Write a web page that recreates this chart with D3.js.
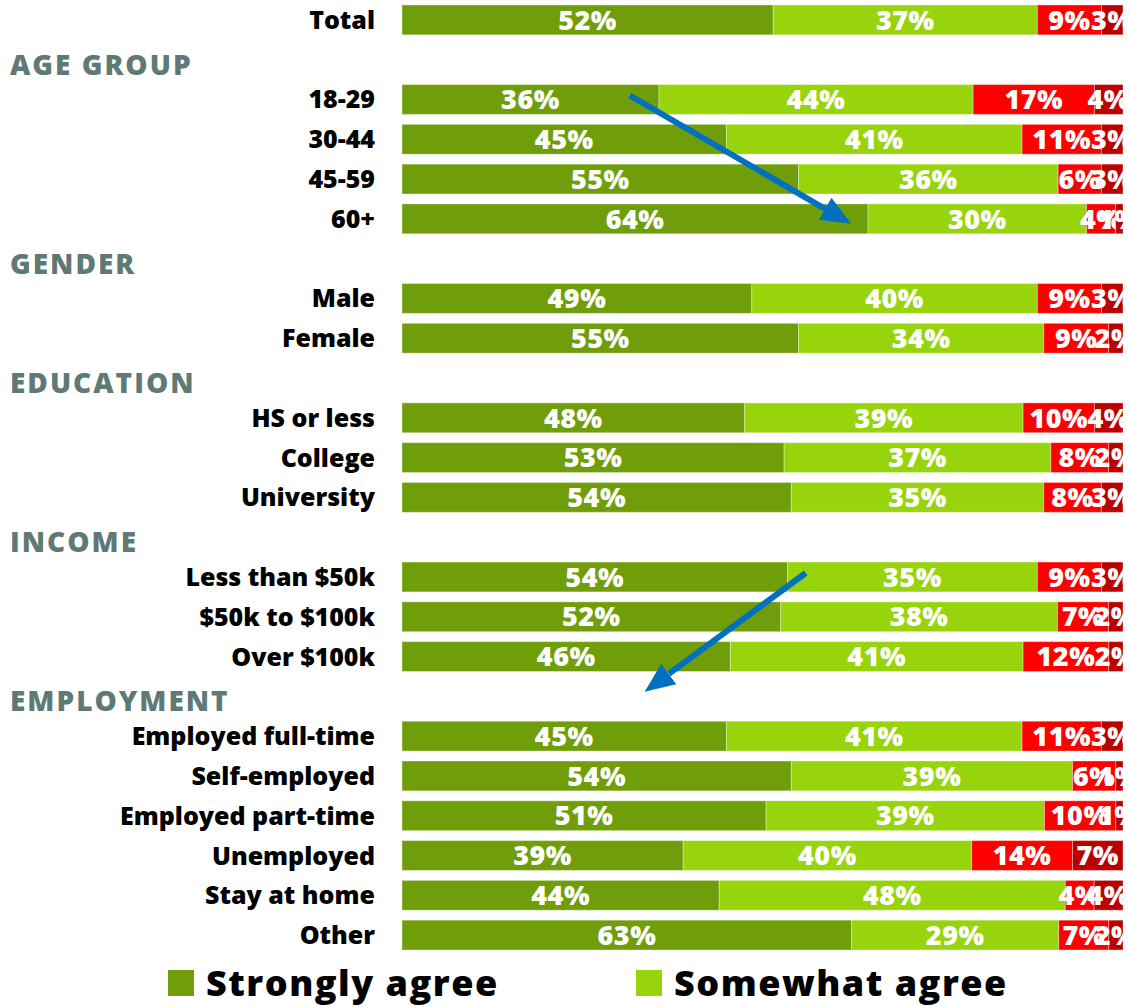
<!DOCTYPE html>
<html>
<head>
<meta charset="utf-8">
<script src="https://cdn.jsdelivr.net/npm/d3@7"></script>
<style>
  body { margin: 0; background: #fff; }
  svg { display: block; font-family: 'Open Sans', sans-serif; }
</style>
</head>
<body>
<div id="chart"></div>
<script>
//Datos del gráfico
const seriesNames = ['Strongly agree', 'Somewhat agree', 'Somewhat disagree', 'Strongly disagree'];
const categories = ['Total', '18-29', '30-44', '45-59', '60+', 'Male', 'Female',
    'HS or less', 'College', 'University', 'Less than $50k', '$50k to $100k', 'Over $100k',
    'Employed full-time', 'Self-employed', 'Employed part-time', 'Unemployed', 'Stay at home', 'Other'];
const headers = ['AGE GROUP', 'GENDER', 'EDUCATION', 'INCOME', 'EMPLOYMENT'];
const headerBefore = ['18-29', 'Male', 'HS or less', 'Less than $50k', 'Employed full-time'];

const stronglyAgree    = [52, 36, 45, 55, 64, 49, 55, 48, 53, 54, 54, 52, 46, 45, 54, 51, 39, 44, 63];
const somewhatAgree    = [37, 44, 41, 36, 30, 40, 34, 39, 37, 35, 35, 38, 41, 41, 39, 39, 40, 48, 29];
const somewhatDisagree = [ 9, 17, 11,  6,  4,  9,  9, 10,  8,  8,  9,  7, 12, 11,  6, 10, 14,  4,  7];
const stronglyDisagree = [ 3,  4,  3,  3,  1,  3,  2,  4,  2,  3,  3,  2,  2,  3,  1,  1,  7,  4,  2];

//Flechas de anotación: [categoría, porcentaje]
const arrowFrom = [['18-29', 31.6], ['Less than $50k', 56.0]];
const arrowTo   = [['60+', 61.8], ['EMPLOYMENT', 34.1]];

//Colores fijos
const COLOR_STRONG = '#6f9e0a',
    COLOR_SOME = '#97d40b',
    COLOR_DIS = '#ff0000',
    COLOR_STRONG_DIS = '#bb0000',
    COLOR_HEADER = '#5f7a75',
    COLOR_ARROW = '#0070c0';
const colors = [COLOR_STRONG, COLOR_SOME, COLOR_DIS, COLOR_STRONG_DIS];

let width = 1130, height = 1006;

//Filas: cabeceras + categorías
let slots = [];
categories.forEach(function(c, i) {
    let h = headerBefore.indexOf(c);
    if (h > -1) slots.push({ key: headers[h], header: true });
    slots.push({ key: c, header: false, index: i });
});

let table = categories.map(function(c, i) {
    return { cat: c, s0: stronglyAgree[i], s1: somewhatAgree[i], s2: somewhatDisagree[i], s3: stronglyDisagree[i] };
});
//Cada barra suma el 100% (valores redondeados)
let stack = d3.stack().keys(['s0', 's1', 's2', 's3']).offset(d3.stackOffsetExpand);
let series = stack(table);

let x = d3.scaleLinear().domain([0, 1]).range([402, 1123]);
let y = d3.scaleBand()
    .domain(slots.map(function(d) { return d.key; }))
    .range([0, 955])
    .paddingInner(0.25)
    .paddingOuter(0.125);

let svg = d3.select('#chart').append('svg')
    .attr('width', width)
    .attr('height', height);

let defs = svg.append('defs');
defs.append('clipPath').attr('id', 'clip')
    .append('rect').attr('x', 0).attr('y', 0).attr('width', 1123).attr('height', height);

let plot = svg.append('g').attr('clip-path', 'url(#clip)');

//Barras
let layers = plot.selectAll('g.layer')
    .data(series)
    .enter()
    .append('g')
    .attr('class', 'layer')
    .attr('fill', function(d, i) { return colors[i]; });

layers.selectAll('rect')
    .data(function(d) { return d; })
    .enter()
    .append('rect')
    .attr('x', function(d) { return x(d[0]); })
    .attr('y', function(d) { return y(d.data.cat); })
    .attr('width', function(d) { return x(d[1]) - x(d[0]); })
    .attr('height', y.bandwidth())
    .attr('stroke', '#ffffff')
    .attr('stroke-opacity', 0.35)
    .attr('stroke-width', 1);

//Etiquetas de porcentaje
layers.selectAll('text')
    .data(function(d) { return d.map(function(p) { p.key = d.key; return p; }); })
    .enter()
    .append('text')
    .attr('x', function(d) { return (x(d[0]) + x(d[1])) / 2; })
    .attr('y', function(d) { return y(d.data.cat) + y.bandwidth() / 2; })
    .attr('dy', '0.36em')
    .attr('text-anchor', 'middle')
    .attr('fill', '#ffffff')
    .style('font-size', '27px')
    .style('font-weight', 800)
    .style('letter-spacing', '0.5px')
    .text(function(d) { return d.data[d.key] + '%'; });

//Etiquetas de filas
svg.selectAll('text.row')
    .data(slots.filter(function(d) { return !d.header; }))
    .enter()
    .append('text')
    .attr('class', 'row')
    .attr('x', 375)
    .attr('y', function(d) { return y(d.key) + y.bandwidth() / 2; })
    .attr('dy', '0.36em')
    .attr('text-anchor', 'end')
    .attr('fill', '#000000')
    .style('font-size', '25px')
    .style('font-weight', 800)
    .text(function(d) { return d.key; });

//Cabeceras de grupo
svg.selectAll('text.header')
    .data(slots.filter(function(d) { return d.header; }))
    .enter()
    .append('text')
    .attr('class', 'header')
    .attr('x', 10)
    .attr('y', function(d) { return y(d.key) + y.bandwidth() / 2 + 5; })
    .attr('dy', '0.36em')
    .attr('fill', COLOR_HEADER)
    .style('font-size', '28px')
    .style('font-weight', 800)
    .style('letter-spacing', '2px')
    .text(function(d) { return d.key; });

//Flechas
defs.append('marker')
    .attr('id', 'head')
    .attr('markerUnits', 'userSpaceOnUse')
    .attr('markerWidth', 30)
    .attr('markerHeight', 30)
    .attr('viewBox', '0 -12 26 24')
    .attr('refX', 0)
    .attr('refY', 0)
    .attr('orient', 'auto')
    .append('path')
    .attr('d', 'M0,-11L26,0L0,11Z')
    .attr('fill', COLOR_ARROW);

let arrowData = arrowFrom.map(function(f, i) {
    let t = arrowTo[i];
    let x1 = x(f[1] / 100), y1 = y(f[0]) + y.bandwidth() / 2 - 4;
    let x2 = x(t[1] / 100), y2 = y(t[0]) + y.bandwidth() / 2 + (i == 0 ? 3 : -7);
    let len = Math.sqrt((x2 - x1) * (x2 - x1) + (y2 - y1) * (y2 - y1));
    let k = (len - 26) / len;
    return { x1: x1, y1: y1, x2: x1 + (x2 - x1) * k, y2: y1 + (y2 - y1) * k };
});

svg.selectAll('line.arrow')
    .data(arrowData)
    .enter()
    .append('line')
    .attr('class', 'arrow')
    .attr('x1', function(d) { return d.x1; })
    .attr('y1', function(d) { return d.y1; })
    .attr('x2', function(d) { return d.x2; })
    .attr('y2', function(d) { return d.y2; })
    .attr('stroke', COLOR_ARROW)
    .attr('stroke-width', 6)
    .attr('marker-end', 'url(#head)');

//Leyenda
let legend = svg.selectAll('g.legend')
    .data(seriesNames.slice(0, 2))
    .enter()
    .append('g')
    .attr('class', 'legend')
    .attr('transform', function(d, i) { return 'translate(' + (168 + i * 468) + ',983)'; });

legend.append('rect')
    .attr('x', 0)
    .attr('y', -13)
    .attr('width', 26)
    .attr('height', 26)
    .attr('fill', function(d, i) { return colors[i]; });

legend.append('text')
    .attr('x', 38)
    .attr('y', 0)
    .attr('dy', '0.36em')
    .attr('fill', '#000000')
    .style('font-size', '36px')
    .style('font-weight', 800)
    .style('letter-spacing', '1.5px')
    .text(function(d) { return d; });
</script>
</body>
</html>
